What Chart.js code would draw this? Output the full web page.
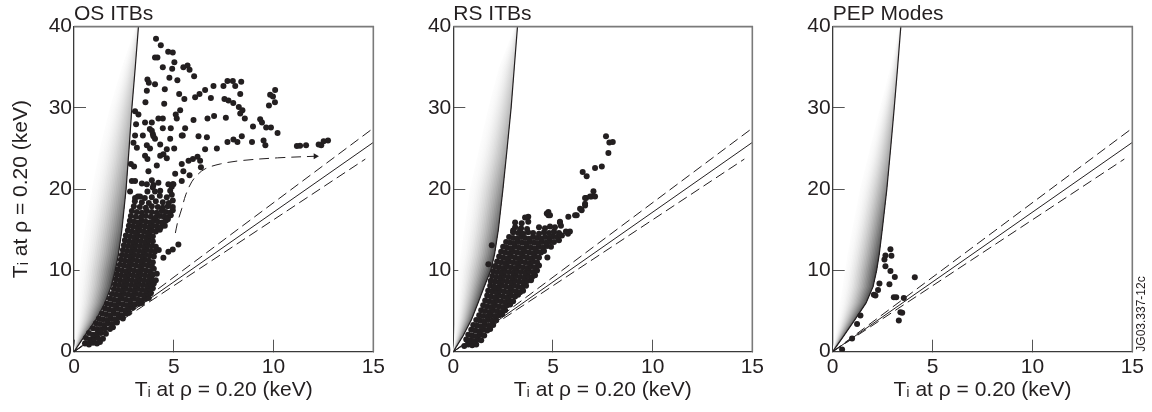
<!DOCTYPE html>
<html><head><meta charset="utf-8">
<script src="https://cdn.jsdelivr.net/npm/chart.js@4.4.1/dist/chart.umd.min.js"></script>
<style>
html,body{margin:0;padding:0;background:#fff;width:1152px;height:412px;overflow:hidden}
canvas{position:absolute;top:0}
</style></head><body>
<canvas id="c1" width="400" height="412" style="left:0px"></canvas>
<canvas id="c2" width="393" height="412" style="left:386px"></canvas>
<canvas id="c3" width="393" height="412" style="left:766px"></canvas>
<script>
// ---------- text ----------
const panelTitles = ['OS ITBs', 'RS ITBs', 'PEP Modes'];
const axisLabel = 'T\u1D62 at \u03C1 = 0.20 (keV)';
const figureCode = 'JG03.337-12c';
const xTicks = [0, 5, 10, 15];
const yTicks = [0, 10, 20, 30, 40];

// ---------- reference lines ----------
const ratioSolid = [[0, 0], [15, 25.75]];
const ratioUpper = [[0, 0], [15, 27.5]];
const ratioLower = [[0, 0], [14.6, 23.7]];
const shadeY = [0, 2, 4, 6, 8, 10, 12, 15, 20, 25, 30, 35, 40];
const osCurveX = [0, 0.55, 1.12, 1.55, 1.86, 2.07, 2.23, 2.4, 2.61, 2.76, 2.9, 3.07, 3.23];
const osShadeLeftX = [0, 0.05, 0.1, 0.15, 0.2, 0.28, 0.38, 0.55, 0.9, 1.3, 1.8, 2.4, 3.1];
const rsCurveX = [0, 0.5, 0.92, 1.24, 1.55, 1.88, 2.07, 2.26, 2.49, 2.7, 2.9, 3.06, 3.22];
const rsShadeLeftX = [0, 0.05, 0.1, 0.15, 0.2, 0.25, 0.38, 0.55, 0.84, 1.3, 1.76, 2.3, 3.1];
const pepCurveX = [0, 0.57, 1.13, 1.67, 2.02, 2.2, 2.33, 2.48, 2.71, 2.9, 3.08, 3.25, 3.41];
const pepShadeLeftX = [0, 0.12, 0.25, 0.37, 0.5, 0.62, 0.75, 0.98, 1.37, 1.87, 2.37, 2.9, 3.35];
const osArrowPath = [[5.08,14.6],[5.2,16.0],[5.4,17.6],[5.6,19.3],[5.9,20.9],[6.2,21.8],[6.57,22.5],[7.33,23.1],[8.33,23.5],[10.2,23.85],[12.1,24.05]];

// ---------- data: OS ITBs ----------
const osItbs = [
[4.11,38.5],[4.35,37.7],[4.72,36.9],[4.95,36.8],[4.06,36.2],[4.18,36.2],[5.03,35.6],[4.45,35.0],[4.92,34.8],[5.48,35.0],[5.69,35.2],[5.79,34.7],[6.02,33.9],[4.78,33.7],[5.18,33.4],[3.68,33.5],[3.75,33.1],[3.65,32.1],[4.06,32.9],[4.55,32.3],[5.27,31.7],[5.53,31.1],[3.58,30.7],[4.52,30.5],[6.07,31.3],[6.29,31.7],[6.57,32.2],[6.99,32.7],[7.49,32.7],[7.69,33.3],[7.96,33.3],[8.08,32.7],[8.38,33.2],[6.86,31.2],[7.54,31.1],[7.74,30.9],[7.98,30.6],[8.33,31.7],[8.26,30.1],[8.44,29.7],[8.33,29.3],[8.56,28.7],[5.32,29.7],[5.10,29.2],[5.15,28.7],[5.99,28.5],[6.69,28.7],[7.02,29.0],[7.61,28.8],[8.97,27.7],[9.33,28.6],[9.42,28.2],[9.63,27.6],[9.87,27.6],[10.2,26.9],[9.83,31.6],[10.08,32.2],[9.97,31.4],[9.77,30.3],[10.07,30.7],[3.56,28.2],[3.9,28.2],[4.23,28.7],[4.45,28.7],[4.45,27.5],[4.85,27.5],[5.57,27.5],[3.8,27.4],[3.95,26.8],[5.4,26.6],[6.24,26.5],[6.66,26.4],[8.41,26.5],[3.23,29.2],[3.06,29.6],[3.11,28.0],[3.06,26.6],[3.45,26.6],[3.9,27.2],[3.98,26.5],[4.06,26.2],[4.82,26.2],[5.45,26.6],[7.69,25.8],[7.99,26.1],[8.19,25.8],[8.92,25.8],[9.5,26.0],[9.59,25.4],
[11.17,25.3],[11.33,25.35],[11.63,25.4],[12.26,25.5],[12.39,25.4],[12.51,25.9],[12.73,26.0],
[2.98,25.7],[3.15,25.1],[3.65,25.4],[3.81,25.0],[4.32,25.5],[4.65,24.9],[5.02,25.0],[6.57,24.9],[7.16,25.0],[3.56,24.1],[3.68,23.7],[4.32,24.1],[4.48,24.3],[4.65,23.8],[2.85,23.1],[3.01,22.8],[4.15,22.9],[5.4,23.1],[5.74,23.5],[5.96,23.7],[6.19,24.0],[6.32,23.5],[6.36,22.7],[3.73,22.2],[5.07,21.9],[5.48,22.2],[5.79,21.7],[5.4,21.0],[2.9,21.0],[3.06,21.0],[3.4,20.7],[3.65,20.6],[3.9,21.1],[3.98,20.5],[4.23,20.8],[4.73,20.6],[4.95,20.6],[2.81,19.7],[3.06,18.9],[3.31,19.1],[3.68,19.7],[3.95,20.2],[4.06,19.7],[4.32,19.8],[4.82,19.8],[4.9,20.3],[4.98,20.6],
[4.48,11.56],[4.73,12.29],[4.95,12.58],[5.23,13.19],
[0.55,1.0],[0.75,0.9],[0.95,1.1],[1.15,1.0],[1.3,1.2],
[0.6,1.7],[0.8,1.5],[1.0,1.6],[1.2,1.7],[1.45,1.6],
[0.75,2.3],[0.95,2.1],[1.15,2.2],[1.35,2.3],[1.6,2.2],
[0.95,2.9],[1.15,2.8],[1.35,2.7],[1.55,2.9],[1.8,2.8],[1.95,3.0],
[1.1,3.5],[1.3,3.4],[1.5,3.3],[1.7,3.5],[1.9,3.4],[2.15,3.6],
[1.25,4.1],[1.45,4.0],[1.65,3.9],[1.85,4.1],[2.05,4.0],[2.25,4.2],[2.45,4.1],
[1.4,4.7],[1.6,4.6],[1.8,4.5],[2.0,4.7],[2.2,4.6],[2.4,4.5],[2.6,4.7],[2.75,4.8],
[1.55,5.3],[1.75,5.2],[1.95,5.1],[2.15,5.3],[2.35,5.2],[2.55,5.1],[2.75,5.3],[2.95,5.4],
[1.65,5.9],[1.85,5.8],[2.05,5.7],[2.25,5.9],[2.45,5.8],[2.65,5.7],[2.85,5.9],[3.05,5.8],[3.25,5.9],[3.4,6.0],
[1.8,6.5],[2.0,6.4],[2.2,6.3],[2.4,6.5],[2.6,6.4],[2.8,6.3],[3.0,6.5],[3.2,6.4],[3.4,6.3],[3.6,6.5],[3.75,6.6],
[1.9,7.1],[2.1,7.0],[2.3,6.9],[2.5,7.1],[2.7,7.0],[2.9,6.9],[3.1,7.1],[3.3,7.0],[3.5,6.9],[3.7,7.1],[3.85,7.2],
[2.0,7.7],[2.2,7.6],[2.4,7.5],[2.6,7.7],[2.8,7.6],[3.0,7.5],[3.2,7.7],[3.4,7.6],[3.6,7.5],[3.8,7.7],[3.95,7.8],
[2.05,8.3],[2.25,8.2],[2.45,8.1],[2.65,8.3],[2.85,8.2],[3.05,8.1],[3.25,8.3],[3.45,8.2],[3.65,8.1],[3.85,8.3],[4.0,8.4],
[2.1,8.9],[2.3,8.8],[2.5,8.7],[2.7,8.9],[2.9,8.8],[3.1,8.7],[3.3,8.9],[3.5,8.8],[3.7,8.7],[3.9,8.9],[4.1,8.8],
[2.15,9.5],[2.35,9.4],[2.55,9.3],[2.75,9.5],[2.95,9.4],[3.15,9.3],[3.35,9.5],[3.55,9.4],[3.75,9.3],[3.95,9.5],[4.15,9.6],
[2.2,10.1],[2.4,10.0],[2.6,9.9],[2.8,10.1],[3.0,10.0],[3.2,9.9],[3.4,10.1],[3.6,10.0],[3.8,9.9],[4.0,10.2],
[2.3,10.7],[2.5,10.6],[2.7,10.5],[2.9,10.7],[3.1,10.6],[3.3,10.5],[3.5,10.7],[3.7,10.6],[3.9,10.5],
[2.35,11.3],[2.55,11.2],[2.75,11.1],[2.95,11.3],[3.15,11.2],[3.35,11.1],[3.55,11.3],[3.75,11.2],[3.95,11.0],
[2.4,11.9],[2.6,11.8],[2.8,11.7],[3.0,11.9],[3.2,11.8],[3.4,11.7],[3.6,11.9],[3.8,11.8],[4.0,11.7],
[2.45,12.5],[2.65,12.4],[2.85,12.3],[3.05,12.5],[3.25,12.4],[3.45,12.3],[3.65,12.5],[3.85,12.4],[4.05,12.3],[4.25,12.5],
[2.5,13.1],[2.7,13.0],[2.9,12.9],[3.1,13.1],[3.3,13.0],[3.5,12.9],[3.7,13.1],[3.9,13.0],[4.1,12.9],
[2.55,13.7],[2.75,13.6],[2.95,13.5],[3.15,13.7],[3.35,13.6],[3.55,13.5],[3.75,13.7],[3.95,13.6],
[2.6,14.3],[2.8,14.2],[3.0,14.1],[3.2,14.3],[3.4,14.2],[3.6,14.1],[3.8,14.3],[3.95,14.2],
[2.7,14.9],[2.9,14.8],[3.1,14.7],[3.3,14.9],[3.5,14.8],[3.7,14.7],[3.9,14.9],[4.1,14.8],[4.3,15.0],
[2.75,15.5],[2.95,15.4],[3.15,15.3],[3.35,15.5],[3.55,15.4],[3.75,15.3],[3.95,15.5],[4.15,15.4],[4.35,15.3],[4.55,15.5],
[2.8,16.1],[3.0,16.0],[3.2,15.9],[3.4,16.1],[3.6,16.0],[3.8,15.9],[4.0,16.1],[4.2,16.0],[4.4,15.9],[4.6,16.1],[4.7,16.3],
[2.85,16.7],[3.1,16.6],[3.35,16.5],[3.6,16.7],[3.85,16.6],[4.1,16.5],[4.3,16.7],[4.5,16.6],[4.7,16.5],[4.85,16.8],
[2.9,17.3],[3.15,17.2],[3.4,17.1],[3.65,17.3],[3.9,17.2],[4.15,17.1],[4.4,17.3],[4.6,17.2],[4.8,17.1],[4.95,17.4],
[3.0,17.9],[3.3,17.8],[3.6,17.7],[3.9,17.9],[4.2,17.8],[4.45,17.7],[4.7,17.9],[4.95,17.8],
[3.05,18.5],[3.4,18.4],[3.75,18.3],[4.1,18.5],[4.45,18.4],[4.75,18.3],[4.95,18.6],
[3.2,19.1],[3.55,18.9],[3.9,19.0],[4.3,19.2],[4.65,19.0],[4.9,19.3]
];

// ---------- data: RS ITBs ----------
const rsItbs = [
[0.55,0.7],[0.75,0.9],[0.95,0.8],[1.15,0.9],
[0.65,1.5],[0.85,1.4],[1.05,1.3],[1.25,1.5],[1.4,1.4],
[0.75,2.1],[0.95,2.0],[1.15,1.9],[1.35,2.1],[1.55,2.0],
[0.9,2.7],[1.1,2.6],[1.3,2.5],[1.5,2.7],[1.7,2.6],[1.85,2.8],
[1.0,3.3],[1.2,3.2],[1.4,3.1],[1.6,3.3],[1.8,3.2],[2.0,3.3],
[1.15,3.9],[1.35,3.8],[1.55,3.7],[1.75,3.9],[1.95,3.8],[2.15,3.9],
[1.3,4.5],[1.5,4.4],[1.7,4.3],[1.9,4.5],[2.1,4.4],[2.3,4.5],[2.45,4.6],
[1.4,5.1],[1.6,5.0],[1.8,4.9],[2.0,5.1],[2.2,5.0],[2.4,4.9],[2.6,5.1],
[1.5,5.7],[1.7,5.6],[1.9,5.5],[2.1,5.7],[2.3,5.6],[2.5,5.5],[2.7,5.7],[2.85,5.8],
[1.6,6.3],[1.8,6.2],[2.0,6.1],[2.2,6.3],[2.4,6.2],[2.6,6.1],[2.8,6.3],[3.0,6.2],
[1.7,6.9],[1.9,6.8],[2.1,6.7],[2.3,6.9],[2.5,6.8],[2.7,6.7],[2.9,6.9],[3.1,6.8],[3.25,7.0],
[1.75,7.5],[1.95,7.4],[2.15,7.3],[2.35,7.5],[2.55,7.4],[2.75,7.3],[2.95,7.5],[3.15,7.4],[3.35,7.3],[3.5,7.5],
[1.85,8.1],[2.05,8.0],[2.25,7.9],[2.45,8.1],[2.65,8.0],[2.85,7.9],[3.05,8.1],[3.25,8.0],[3.45,7.9],[3.65,8.1],
[1.9,8.7],[2.1,8.6],[2.3,8.5],[2.5,8.7],[2.7,8.6],[2.9,8.5],[3.1,8.7],[3.3,8.6],[3.5,8.5],[3.7,8.7],[3.9,8.8],
[1.95,9.3],[2.15,9.2],[2.35,9.1],[2.55,9.3],[2.75,9.2],[2.95,9.1],[3.15,9.3],[3.35,9.2],[3.55,9.1],[3.75,9.3],[3.95,9.2],[4.1,9.4],
[2.0,9.9],[2.2,9.8],[2.4,9.7],[2.6,9.9],[2.8,9.8],[3.0,9.7],[3.2,9.9],[3.4,9.8],[3.6,9.7],[3.8,9.9],[4.0,9.8],[4.2,10.0],
[2.1,10.5],[2.3,10.4],[2.5,10.3],[2.7,10.5],[2.9,10.4],[3.1,10.3],[3.3,10.5],[3.5,10.4],[3.7,10.3],[3.9,10.5],[4.1,10.4],[4.3,10.6],
[2.2,11.1],[2.4,11.0],[2.6,10.9],[2.8,11.1],[3.0,11.0],[3.2,10.9],[3.4,11.1],[3.6,11.0],[3.8,10.9],[4.0,11.1],[4.2,11.0],
[2.3,11.7],[2.5,11.6],[2.7,11.5],[2.9,11.7],[3.1,11.6],[3.3,11.5],[3.5,11.7],[3.7,11.6],[3.9,11.5],[4.1,11.7],[4.3,11.6],
[2.4,12.3],[2.6,12.2],[2.8,12.1],[3.0,12.3],[3.2,12.2],[3.4,12.1],[3.6,12.3],[3.8,12.2],[4.0,12.1],[4.2,12.3],[4.4,12.2],[4.55,12.4],
[2.5,12.9],[2.7,12.8],[2.9,12.7],[3.1,12.9],[3.3,12.8],[3.5,12.7],[3.7,12.9],[3.9,12.8],[4.1,12.7],[4.3,12.9],[4.5,12.8],[4.7,13.0],[4.9,12.9],
[2.65,13.5],[2.85,13.4],[3.05,13.3],[3.25,13.5],[3.45,13.4],[3.65,13.3],[3.85,13.5],[4.05,13.4],[4.25,13.3],[4.45,13.5],[4.65,13.4],[4.85,13.6],[5.05,13.5],[5.3,13.7],
[2.8,14.1],[3.0,14.0],[3.2,13.9],[3.4,14.1],[3.6,14.0],[3.8,13.9],[4.0,14.1],[4.2,14.0],[4.4,13.9],[4.6,14.1],[4.8,14.0],[5.0,14.2],[5.2,14.1],[5.45,14.3],[5.75,14.5],
[3.0,14.7],[3.25,14.6],[3.5,14.5],[3.75,14.7],[4.0,14.6],[4.3,14.5],[4.55,14.7],[4.8,14.6],[5.05,14.8],[5.3,14.6],
[3.1,15.3],[3.4,15.2],[3.7,15.1],[4.3,15.3],[4.6,15.2],[4.85,15.4],[5.1,15.3],[5.4,15.5],
[4.72,11.6],
[3.1,15.9],[3.43,15.8],[3.76,16.6],[3.76,16.0],[3.0,14.9],[3.6,16.5],[3.35,15.0],[4.69,17.0],[4.77,16.8],[4.77,17.2],[4.85,16.8],[5.35,15.9],[5.35,16.0],[5.77,16.6],[5.85,14.8],[5.65,14.8],[5.35,14.4],[6.19,16.8],[6.11,16.8],[6.44,17.4],[6.36,17.6],[6.61,18.0],[6.61,18.2],[6.66,18.9],[6.61,18.9],[6.94,19.1],[6.86,19.1],[7.03,19.75],[7.11,19.1],[6.49,22.1],[6.69,21.6],[7.11,22.6],[7.45,22.8],[7.66,26.5],[7.83,25.75],[8.0,25.8],[7.78,24.45],[1.93,13.1],[1.76,10.75],[2.09,10.5],[1.88,8.7],[2.04,7.9]
];

// ---------- data: PEP modes ----------
const pepModes = [
[2.89,12.6],[2.64,11.85],[2.94,11.8],[2.59,11.35],[2.64,10.5],[2.89,9.93],[3.11,9.2],[4.11,9.15],[2.34,8.4],[2.84,8.3],[2.27,7.6],[2.06,7.0],[2.14,6.9],[3.06,6.7],[3.18,6.7],[3.56,6.6],[3.39,4.85],[3.48,4.8],[3.31,3.85],[1.39,4.45],[1.22,3.4],[0.97,1.63],[0.47,0.28]
];

// ---------- drawing ----------
const INK = '#231f20';
const FONT = "'Liberation Sans', Arial, Helvetica, sans-serif";
const toXY = arr => arr.map(p => ({x: p[0], y: p[1]}));

function stripColor(t) {
  return (ctx) => {
    const ch = ctx.chart;
    if (!ch.chartArea) return 'rgba(0,0,0,0)';
    const ys = ch.scales.y;
    const g = ch.ctx.createLinearGradient(0, ys.getPixelForValue(0), 0, ys.getPixelForValue(40));
    const f = Math.pow(t, 1.8);
    [[0, 0.8], [0.25, 1], [0.6, 0.5], [1, 0.15]].forEach(([p, a]) => {
      const L = Math.round(252 - 185 * f * a);
      g.addColorStop(p, `rgb(${L},${L},${L})`);
    });
    return g;
  };
}

function shadeSets(curveX, leftX) {
  const N = 20, sets = [];
  for (let k = 0; k < N; k++) {
    const t = k / N;
    const pts = [];
    for (let i = 0; i < shadeY.length; i++) pts.push({x: leftX[i] + t * (curveX[i] - leftX[i]), y: shadeY[i]});
    for (let i = shadeY.length - 1; i >= 0; i--) pts.push({x: curveX[i], y: shadeY[i]});
    sets.push({type: 'line', data: pts, fill: 'shape', borderColor: 'rgba(0,0,0,0)', borderWidth: 0,
      pointRadius: 0, tension: 0, order: 100 - k, backgroundColor: stripColor((k + 0.5) / N)});
  }
  return sets;
}

function lineSet(arr, dash, width, extra) {
  return Object.assign({type: 'line', data: toXY(arr), borderColor: INK, borderWidth: width,
    borderDash: dash, pointRadius: 0, fill: false, tension: 0, order: 5}, extra || {});
}

const framePlugin = {
  id: 'frame',
  afterDraw(chart) {
    const {ctx, chartArea: a} = chart;
    ctx.save();
    ctx.strokeStyle = '#7a7a7a';
    ctx.lineWidth = 1.6;
    ctx.beginPath();
    ctx.moveTo(a.left, a.top);
    ctx.lineTo(a.right, a.top);
    ctx.lineTo(a.right, a.bottom);
    ctx.stroke();
    ctx.restore();
  }
};

const codePlugin = {
  id: 'figcode',
  afterDraw(chart, args, opts) {
    if (!opts.text) return;
    const ctx = chart.ctx;
    ctx.save();
    ctx.translate(chart.chartArea.right + 9, chart.chartArea.bottom);
    ctx.rotate(-Math.PI / 2);
    ctx.fillStyle = INK;
    ctx.font = `12px ${FONT}`;
    ctx.textAlign = 'left';
    ctx.textBaseline = 'middle';
    ctx.fillText(opts.text, 0, 0);
    ctx.restore();
  }
};

function makeChart(id, idx, points, curveX, leftX, yAxisWidth, extraSets) {
  const curve = shadeY.map((y, i) => [curveX[i], y]);
  const datasets = [
    {type: 'scatter', data: toXY(points), pointRadius: 3.0, pointBackgroundColor: INK,
     pointBorderWidth: 0, borderWidth: 0, showLine: false, order: 0},
    lineSet(ratioSolid, [], 1),
    lineSet(ratioUpper, [10, 5], 1),
    lineSet(ratioLower, [10, 5], 1),
    lineSet(curve, [], 1.2),
    ...(extraSets || []),
    ...shadeSets(curveX, leftX)
  ];
  return new Chart(document.getElementById(id), {
    type: 'scatter',
    data: {datasets},
    plugins: [framePlugin, codePlugin],
    options: {
      responsive: false, animation: false, events: [],
      layout: {autoPadding: false, padding: {left: 0, right: 0, top: 0, bottom: 0}},
      plugins: {
        legend: {display: false}, tooltip: {enabled: false},
        title: {display: true, text: panelTitles[idx], align: 'start', fullSize: false,
          color: INK, font: {family: FONT, size: 21, weight: 'normal', lineHeight: 1.0},
          padding: {top: -0.5, bottom: 2.2}},
        figcode: {text: idx === 2 ? figureCode : ''}
      },
      scales: {
        x: {type: 'linear', min: 0, max: 15,
          afterBuildTicks: s => { s.ticks = xTicks.map(v => ({value: v})); },
          afterFit: s => { s.height = 60.3; },
          ticks: {color: INK, padding: 15, font: {family: FONT, size: 21}},
          grid: {drawOnChartArea: false, drawTicks: true, tickLength: -12, color: '#555', lineWidth: 1},
          border: {display: true, color: '#3a3a3a', width: 1.3},
          title: {display: true, text: axisLabel, color: INK, font: {family: FONT, size: 21},
            padding: {top: 0, bottom: 9}}
        },
        y: {type: 'linear', min: 0, max: 40,
          afterBuildTicks: s => { s.ticks = yTicks.map(v => ({value: v})); },
          afterFit: s => { s.width = yAxisWidth; },
          ticks: {color: INK, padding: 14, font: {family: FONT, size: 21}},
          grid: {drawOnChartArea: false, drawTicks: true, tickLength: -12, color: '#555', lineWidth: 1},
          border: {display: true, color: '#3a3a3a', width: 1.3},
          title: {display: idx === 0, text: axisLabel, color: INK, font: {family: FONT, size: 21},
            padding: {top: 9, bottom: 0}}
        }
      }
    }
  });
}

const arrowSet = lineSet(osArrowPath, [10, 6], 1, {
  tension: 0.35,
  pointRadius: c => (c.dataIndex === osArrowPath.length - 1 ? 3.5 : 0),
  pointStyle: 'triangle', rotation: 90, pointBackgroundColor: INK, pointBorderWidth: 0
});

makeChart('c1', 0, osItbs, osCurveX, osShadeLeftX, 74, [arrowSet]);
makeChart('c2', 1, rsItbs, rsCurveX, rsShadeLeftX, 67.3);
makeChart('c3', 2, pepModes, pepCurveX, pepShadeLeftX, 66.7);
</script>
</body></html>
